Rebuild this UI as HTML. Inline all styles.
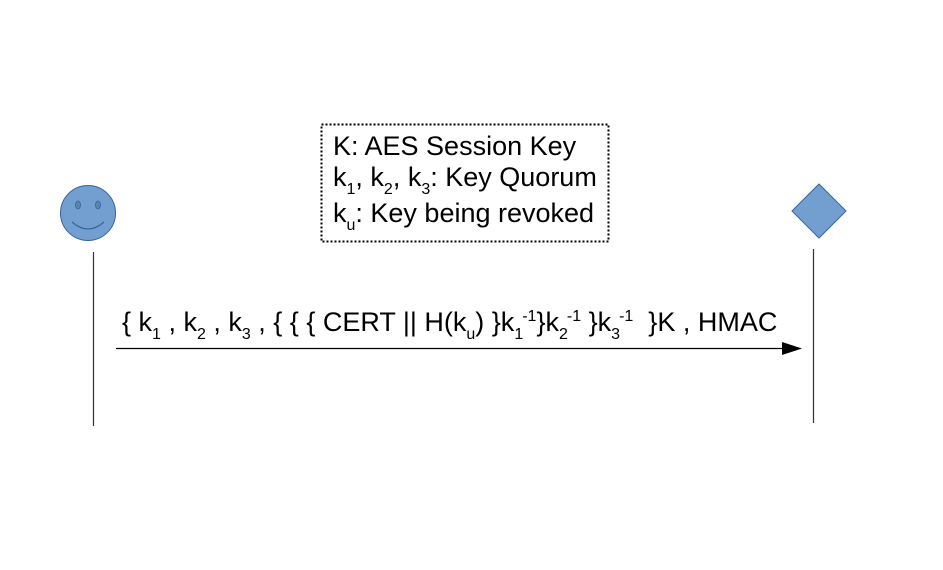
<!DOCTYPE html>
<html><head><style>
body{margin:0;width:943px;height:570px;background:#fff;position:relative;overflow:hidden;font-family:"Liberation Sans",sans-serif;color:#000}
.t{position:absolute;white-space:nowrap;line-height:1}
.s{font-size:16px;position:relative;top:8px}
.p{font-size:16px;position:relative;top:-10px}
</style></head><body>
<svg width="943" height="570" style="position:absolute;left:0;top:0">
<circle cx="88" cy="213" r="27.5" fill="#729fcf" stroke="#3465a4" stroke-width="1"/>
<ellipse cx="78" cy="205" rx="2.5" ry="4" fill="#5b84b1" stroke="#3465a4" stroke-width="0.8"/>
<ellipse cx="98" cy="205" rx="2.5" ry="4" fill="#5b84b1" stroke="#3465a4" stroke-width="0.8"/>
<path d="M72 222 Q88 236 104 222" fill="none" stroke="#3465a4" stroke-width="1.3"/>
<polygon points="819,184 846,211 819,238 792,211" fill="#729fcf" stroke="#3465a4" stroke-width="1"/>
<line x1="93.5" y1="252" x2="93.5" y2="426" stroke="#333" stroke-width="1.2"/>
<line x1="813.5" y1="249" x2="813.5" y2="423" stroke="#333" stroke-width="1.2"/>
<line x1="116" y1="348.5" x2="785" y2="348.5" stroke="#000" stroke-width="1.3"/>
<polygon points="782,342 802,348.5 782,355" fill="#000"/>
<rect x="321.5" y="124.5" width="287" height="117" fill="none" stroke="#000" stroke-width="2" stroke-dasharray="2 2"/>
</svg>
<div class="t" style="left:333px;top:133px;font-size:27px">K: AES Session Key</div>
<div class="t" style="left:333px;top:164px;font-size:27px">k<span class="s">1</span>, k<span class="s">2</span>, k<span class="s">3</span>: Key Quorum</div>
<div class="t" style="left:333px;top:200px;font-size:27px">k<span class="s">u</span>: Key being revoked</div>
<div class="t" style="left:122px;top:309px;font-size:27px">{ k<span class="s">1</span> , k<span class="s">2</span> , k<span class="s">3</span> , { { { CERT || H(k<span class="s">u</span>) }k<span class="s">1</span><span class="p" style="margin-left:-1px">-1</span>}k<span class="s">2</span><span class="p" style="margin-left:-1px">-1</span> }k<span class="s">3</span><span class="p" style="margin-left:-1px">-1</span> &nbsp;}K , HMAC</div>
</body></html>
